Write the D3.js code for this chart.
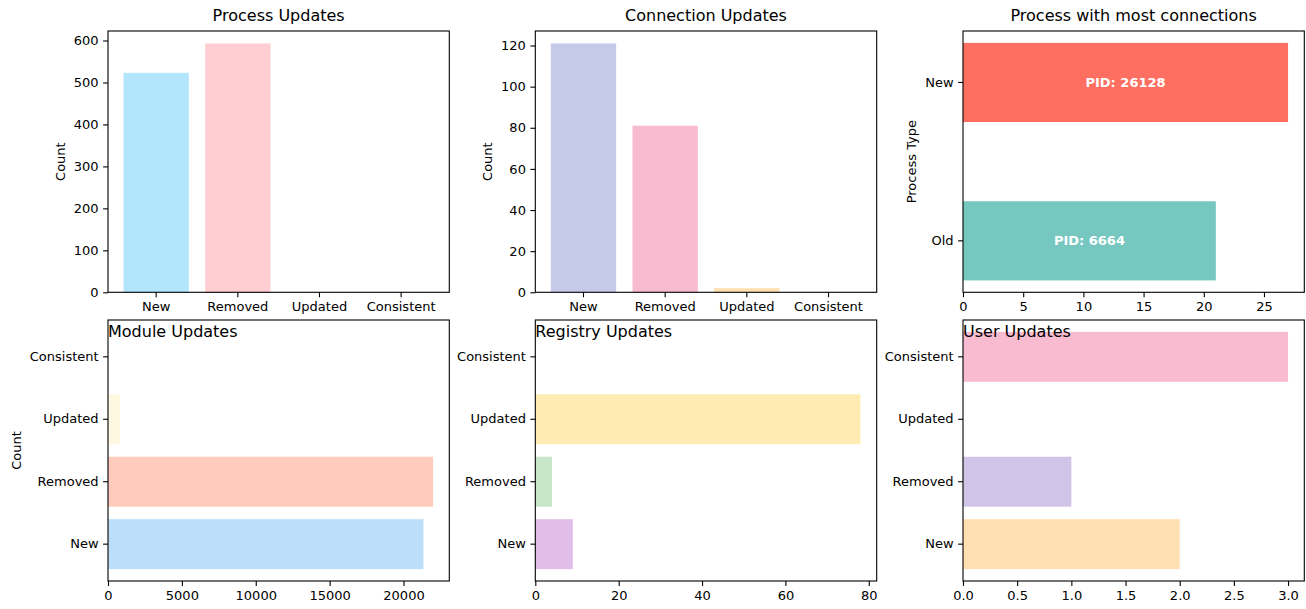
<!DOCTYPE html>
<html lang="en">
<head>
  <meta charset="UTF-8">
  <title>Update Summary</title>
  <script src="https://d3js.org/d3.v7.min.js"></script>
  <style>
    body { margin: 0; background: #fff; }
    svg text { font-family: "DejaVu Sans", sans-serif; fill: #000; }
  </style>
</head>
<body>

<div id="chart"></div>

<script>
  // Data
  const categories = ["New", "Removed", "Updated", "Consistent"];
  const processCounts = [523, 593, 1, 0];
  const connectionCounts = [121, 81, 2, 0];
  const moduleCounts = [21350, 22000, 800, 0];
  const registryCounts = [9, 4, 78, 0];
  const userCounts = [2, 1, 0, 3];

  const processTypes = ["Old", "New"];
  const topConnections = [21, 27];
  const pidLabels = ["PID: 6664", "PID: 26128"];

  // Palettes
  const processColors = ["#b3e5fc", "#ffcdd2", "#fff9c4", "#c8e6c9"];
  const connectionColors = ["#c5cae9", "#f8bbd0", "#ffe0b2", "#b2dfdb"];
  const moduleColors = ["#bbdefb", "#ffccbc", "#fff8e1", "#d7ccc8"];
  const registryColors = ["#e1bee7", "#c8e6c9", "#ffecb3", "#b3e5fc"];
  const userColors = ["#ffe0b2", "#d1c4e9", "#c8e6c9", "#f8bbd0"];
  const pidColors = ["#76c7c0", "#ff6f61"];

  const width = 1306, height = 609;
  const tickFont = 13, titleFont = 16;

  const svg = d3.select("#chart").append("svg")
    .attr("width", width)
    .attr("height", height);

  // axes boxes (figure pixels)
  const cols = [[108, 449.3], [535.3, 876.7], [963, 1304.3]];
  const rows = [[31, 292.3], [320, 581]];

  function frame(g, w, h) {
    g.append("rect")
      .attr("width", w).attr("height", h)
      .attr("fill", "none")
      .attr("stroke", "#000")
      .attr("stroke-width", 1.1);
  }

  function styleAxis(a) {
    a.select(".domain").remove();
    a.selectAll(".tick line").attr("stroke", "#000").attr("stroke-width", 1.1);
    a.selectAll(".tick text").style("font-size", tickFont + "px").attr("fill", "#000");
  }

  function yLabel(g, text, x, h) {
    g.append("text")
      .attr("transform", `translate(${x}, ${h / 2}) rotate(-90)`)
      .attr("text-anchor", "middle")
      .style("font-size", tickFont + "px")
      .text(text);
  }

  // vertical bar panel
  function columnPanel(col, row, values, colors, title, tickCount) {
    const [x0, x1] = cols[col], [y0, y1] = rows[row];
    const w = x1 - x0, h = y1 - y0;
    const g = svg.append("g").attr("transform", `translate(${x0}, ${y0})`);

    const x = d3.scaleBand().domain(categories).range([0, w])
      .paddingInner(0.2).paddingOuter(0.19);
    const y = d3.scaleLinear().domain([0, d3.max(values) * 1.05]).range([h, 0]);

    g.selectAll("rect.bar")
      .data(values)
      .enter().append("rect")
      .attr("class", "bar")
      .attr("x", (d, i) => x(categories[i]))
      .attr("width", x.bandwidth())
      .attr("y", d => y(d))
      .attr("height", d => h - y(d))
      .attr("fill", (d, i) => colors[i]);

    const ax = g.append("g").attr("transform", `translate(0, ${h})`)
      .call(d3.axisBottom(x).tickSize(4.9).tickPadding(4.5));
    styleAxis(ax);
    const ay = g.append("g")
      .call(d3.axisLeft(y).ticks(tickCount).tickSize(4.9).tickPadding(4.5));
    styleAxis(ay);

    frame(g, w, h);
    yLabel(g, "Count", -43, h);

    g.append("text")
      .attr("x", w / 2).attr("y", -10)
      .attr("text-anchor", "middle")
      .style("font-size", titleFont + "px")
      .text(title);
  }

  // horizontal bar panel (bottom row)
  function rowPanel(col, values, colors, title, tickCount, fmt, withLabel) {
    const [x0, x1] = cols[col], [y0, y1] = rows[1];
    const w = x1 - x0, h = y1 - y0;
    const g = svg.append("g").attr("transform", `translate(${x0}, ${y0})`);

    const y = d3.scaleBand().domain(categories).range([h, 0])
      .paddingInner(0.2).paddingOuter(0.19);
    const x = d3.scaleLinear().domain([0, d3.max(values) * 1.05]).range([0, w]);

    g.selectAll("rect.bar")
      .data(values)
      .enter().append("rect")
      .attr("class", "bar")
      .attr("x", 0)
      .attr("y", (d, i) => y(categories[i]))
      .attr("height", y.bandwidth())
      .attr("width", d => x(d))
      .attr("fill", (d, i) => colors[i]);

    const ax = g.append("g").attr("transform", `translate(0, ${h})`)
      .call(d3.axisBottom(x).ticks(tickCount).tickFormat(d3.format(fmt)).tickSize(4.9).tickPadding(4.5));
    styleAxis(ax);
    const ay = g.append("g")
      .call(d3.axisLeft(y).tickSize(4.9).tickPadding(4.5));
    styleAxis(ay);

    frame(g, w, h);
    if (withLabel) yLabel(g, "Count", -87, h);

    g.append("text")
      .attr("x", 0).attr("y", 16.5)
      .style("font-size", titleFont + "px")
      .text(title);
  }

  columnPanel(0, 0, processCounts, processColors, "Process Updates", 6);
  columnPanel(1, 0, connectionCounts, connectionColors, "Connection Updates", 6);

  // Process with most connections
  (function () {
    const [x0, x1] = cols[2], [y0, y1] = rows[0];
    const w = x1 - x0, h = y1 - y0;
    const g = svg.append("g").attr("transform", `translate(${x0}, ${y0})`);

    const y = d3.scaleBand().domain(processTypes).range([h, 0])
      .paddingInner(0.5).paddingOuter(0.075);
    const x = d3.scaleLinear().domain([0, d3.max(topConnections) * 1.05]).range([0, w]);

    g.selectAll("rect.bar")
      .data(topConnections)
      .enter().append("rect")
      .attr("class", "bar")
      .attr("x", 0)
      .attr("y", (d, i) => y(processTypes[i]))
      .attr("height", y.bandwidth())
      .attr("width", d => x(d))
      .attr("fill", (d, i) => pidColors[i]);

    g.selectAll("text.pid")
      .data(topConnections)
      .enter().append("text")
      .attr("class", "pid")
      .attr("x", d => x(d / 2))
      .attr("y", (d, i) => y(processTypes[i]) + y.bandwidth() / 2)
      .attr("dy", "0.35em")
      .attr("text-anchor", "middle")
      .style("font-size", tickFont + "px")
      .style("font-weight", "bold")
      .style("fill", "#fff")
      .text((d, i) => pidLabels[i]);

    const ax = g.append("g").attr("transform", `translate(0, ${h})`)
      .call(d3.axisBottom(x).ticks(6).tickSize(4.9).tickPadding(4.5));
    styleAxis(ax);
    const ay = g.append("g")
      .call(d3.axisLeft(y).tickSize(4.9).tickPadding(4.5));
    styleAxis(ay);

    frame(g, w, h);
    yLabel(g, "Process Type", -47, h);

    g.append("text")
      .attr("x", w / 2).attr("y", -10)
      .attr("text-anchor", "middle")
      .style("font-size", titleFont + "px")
      .text("Process with most connections");
  })();

  rowPanel(0, moduleCounts, moduleColors, "Module Updates", 5, "d", true);
  rowPanel(1, registryCounts, registryColors, "Registry Updates", 5, "d", false);
  rowPanel(2, userCounts, userColors, "User Updates", 7, ".1f", false);
</script>

</body>
</html>
